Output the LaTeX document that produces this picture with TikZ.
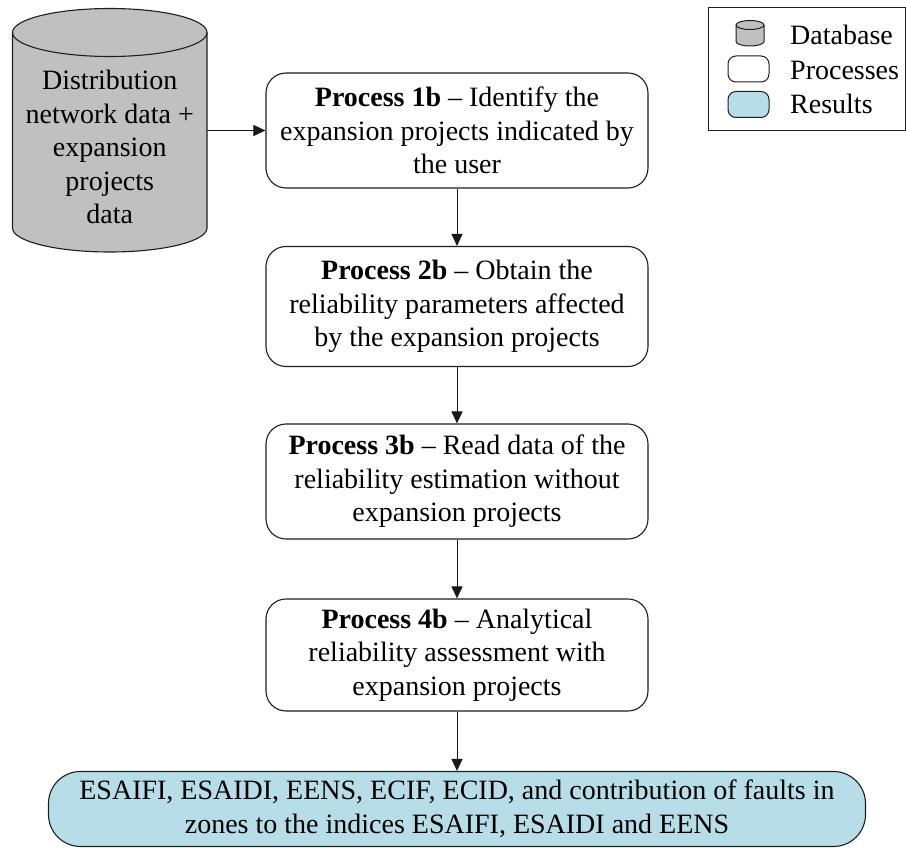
\documentclass[tikz,border=0pt]{standalone}
\usepackage{fontspec}
\setmainfont{Liberation Serif}
\usetikzlibrary{arrows.meta}
\definecolor{dbgray}{RGB}{192,192,192}
\definecolor{resblue}{RGB}{183,221,232}
\definecolor{edge}{RGB}{30,30,30}

\begin{document}
\begin{tikzpicture}[x=1pt,y=-1pt,
  txt/.style={font=\fontsize{28}{33.5}\selectfont},
  procbox/.style={draw=edge, line width=1.1pt, rounded corners=20pt, fill=white,
    align=center, txt, inner sep=0pt, minimum width=382pt},
  resbox/.style={draw=edge, line width=1.1pt, rounded corners=32pt, fill=resblue,
    align=center, txt, inner sep=0pt, minimum width=817pt, minimum height=75pt},
  flow/.style={draw=black!90, line width=1pt, -{Triangle[length=12pt,width=11pt]}},
  legtext/.style={txt, anchor=base west, inner sep=0pt},
]
\useasboundingbox (0,0) rectangle (906,848);

% database cylinder
\path[draw=edge, line width=1.1pt, fill=dbgray]
  (12.5,32.5) -- (12.5,228) arc[start angle=180, end angle=360, x radius=97.25pt, y radius=24pt]
  -- (207,32.5) arc[start angle=0, end angle=180, x radius=97.25pt, y radius=24pt] -- cycle;
\draw[edge, line width=1.1pt] (12.5,32.5) arc[start angle=180, end angle=360, x radius=97.25pt, y radius=24pt];
\node[txt, align=center, inner sep=0pt, minimum width=194.5pt] (db) at (109.75,147)
  {Distribution\\network data +\\expansion\\projects\\data};

% process chain
\node[procbox, minimum height=115pt] (b1) at (457,130.5)
  {\textbf{Process 1b} -- Identify the\\expansion projects indicated by\\the user};
\node[procbox, minimum height=120pt] (b2) at (457,306.5)
  {\textbf{Process 2b} -- Obtain the\\reliability parameters affected\\by the expansion projects};
\node[procbox, minimum height=115pt] (b3) at (457,481.5)
  {\textbf{Process 3b} -- Read data of the\\reliability estimation without\\expansion projects};
\node[procbox, minimum height=112pt] (b4) at (457,655)
  {\textbf{Process 4b} -- Analytical\\reliability assessment with\\expansion projects};
\node[resbox] (res) at (457,809)
  {ESAIFI, ESAIDI, EENS, ECIF, ECID, and contribution of faults in\\zones to the indices ESAIFI, ESAIDI and EENS};

\draw[flow] (db.east |- b1.west) -- (b1.west);
\draw[flow] (b1) -- (b2);
\draw[flow] (b2) -- (b3);
\draw[flow] (b3) -- (b4);
\draw[flow] (b4) -- (res);

% legend
\node[draw=edge, line width=1pt, minimum width=197.5pt, minimum height=123pt, inner sep=0pt] (legend) at (807,69.5) {};
\path[draw=edge, line width=1pt, fill=dbgray]
  (736,25) -- (736,41.5) arc[start angle=180, end angle=360, x radius=14pt, y radius=4.5pt]
  -- (764,25) arc[start angle=0, end angle=180, x radius=14pt, y radius=4.5pt] -- cycle;
\draw[edge, line width=1pt] (736,25) arc[start angle=180, end angle=360, x radius=14pt, y radius=4.5pt];
\node[draw=edge, line width=1pt, rounded corners=8pt, fill=white, minimum width=41pt, minimum height=26pt, inner sep=0pt] (lgproc) at (748.5,69) {};
\node[draw=edge, line width=1pt, rounded corners=8pt, fill=resblue, minimum width=41pt, minimum height=26pt, inner sep=0pt] (lgres) at (748.5,104.5) {};
\node[legtext] (lgdbtext) at (790,45) {Database};
\node[legtext] (lgproctext) at (790,80) {Processes};
\node[legtext] (lgrestext) at (790,114) {Results};
\end{tikzpicture}
\end{document}
